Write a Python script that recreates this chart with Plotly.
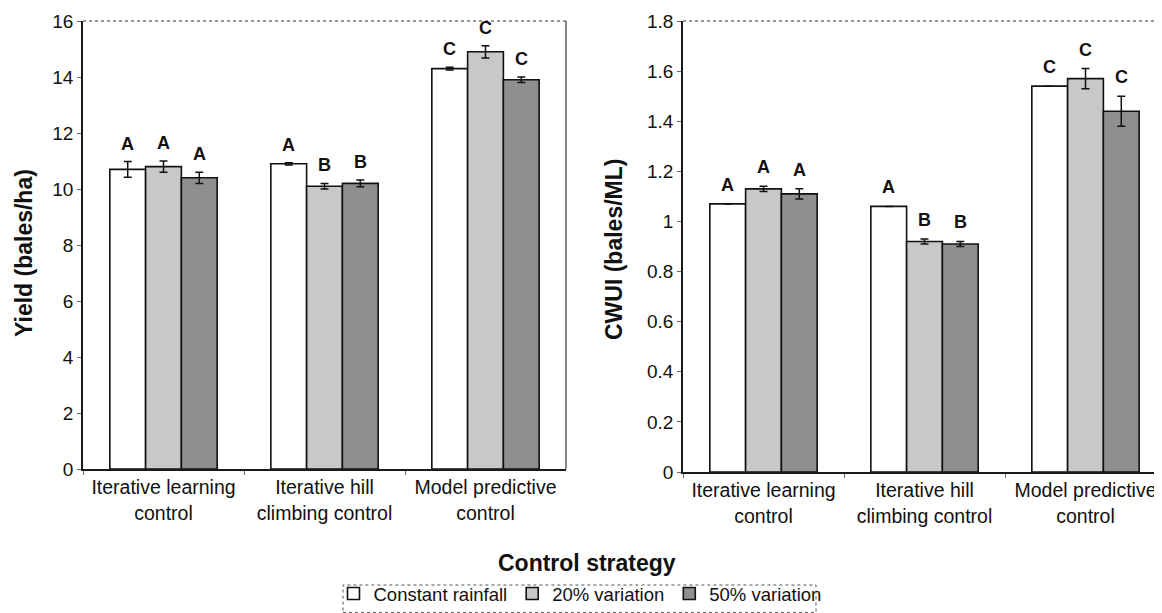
import plotly.graph_objects as go

categories = ["Iterative learning<br>control", "Iterative hill<br>climbing control", "Model predictive<br>control"]
series_names = ["Constant rainfall", "20% variation", "50% variation"]

yield_constant = [10.7, 10.9, 14.3]
yield_20 = [10.8, 10.1, 14.9]
yield_50 = [10.4, 10.2, 13.9]
yield_err_constant = [0.28, 0.04, 0.05]
yield_err_20 = [0.2, 0.1, 0.22]
yield_err_50 = [0.2, 0.12, 0.1]

cwui_constant = [1.07, 1.06, 1.54]
cwui_20 = [1.13, 0.92, 1.57]
cwui_50 = [1.11, 0.91, 1.44]
cwui_err_constant = [0.0, 0.0, 0.0]
cwui_err_20 = [0.01, 0.01, 0.04]
cwui_err_50 = [0.02, 0.01, 0.06]

letters_constant = ["A", "A", "C"]
letters_20 = ["A", "B", "C"]
letters_50 = ["A", "B", "C"]

fills = ["#ffffff", "#c8c8c8", "#8f8f8f"]
FONT = "Liberation Sans, Arial, sans-serif"
INK = "#111111"

# page is offset by the default 8px body margin
FW, FH = 1154, 605

def px(x):
    return (x - 8) / FW

def py(y):
    return 1 - (y - 8) / FH

fig = go.Figure()

yield_vals = [yield_constant, yield_20, yield_50]
yield_errs = [yield_err_constant, yield_err_20, yield_err_50]
cwui_vals = [cwui_constant, cwui_20, cwui_50]
cwui_errs = [cwui_err_constant, cwui_err_20, cwui_err_50]
letters = [letters_constant, letters_20, letters_50]

for i in range(3):
    fig.add_trace(go.Bar(
        x=categories, y=yield_vals[i], name=series_names[i],
        marker=dict(color=fills[i], line=dict(color=INK, width=1.6)),
        error_y=dict(type="data", array=yield_errs[i], visible=True,
                     color=INK, thickness=1.5, width=4),
        xaxis="x", yaxis="y", offsetgroup=str(i), legendgroup=str(i),
    ))
for i in range(3):
    fig.add_trace(go.Bar(
        x=categories, y=cwui_vals[i], name=series_names[i],
        marker=dict(color=fills[i], line=dict(color=INK, width=1.6)),
        error_y=dict(type="data", array=cwui_errs[i], visible=True,
                     color=INK, thickness=1.5, width=4),
        xaxis="x2", yaxis="y2", offsetgroup=str(i), legendgroup=str(i),
        showlegend=False,
    ))

cat_px = 161.0
bw = cat_px / 4.5
annotations = []
for i in range(3):
    for j, cat in enumerate(categories):
        annotations.append(dict(
            x=cat, y=yield_vals[i][j] + yield_errs[i][j], xref="x", yref="y",
            text="<b>%s</b>" % letters[i][j], showarrow=False,
            xshift=(i - 1) * bw, yshift=6, xanchor="center", yanchor="bottom",
            font=dict(family=FONT, size=18, color=INK)))
        annotations.append(dict(
            x=cat, y=cwui_vals[i][j] + cwui_errs[i][j], xref="x2", yref="y2",
            text="<b>%s</b>" % letters[i][j], showarrow=False,
            xshift=(i - 1) * bw, yshift=7, xanchor="center", yanchor="bottom",
            font=dict(family=FONT, size=18, color=INK)))

annotations += [
    dict(x=px(24), y=py(253), xref="paper", yref="paper", text="<b>Yield (bales/ha)</b>",
         textangle=-90, showarrow=False, xanchor="center", yanchor="middle",
         font=dict(family=FONT, size=23, color=INK)),
    dict(x=px(614), y=py(250), xref="paper", yref="paper", text="<b>CWUI (bales/ML)</b>",
         textangle=-90, showarrow=False, xanchor="center", yanchor="middle",
         font=dict(family=FONT, size=23, color=INK)),
    dict(x=px(587), y=py(563), xref="paper", yref="paper", text="<b>Control strategy</b>",
         showarrow=False, xanchor="center", yanchor="middle",
         font=dict(family=FONT, size=23, color=INK)),
]

axis_common = dict(showgrid=False, zeroline=False, showline=True, linecolor="#1a1a1a",
                   linewidth=1.6, ticks="outside", ticklen=4, tickcolor="#666666",
                   automargin=False,
                   tickfont=dict(family=FONT, size=19, color=INK))

xfont = dict(family=FONT, size=19.5, color=INK)

fig.update_layout(
    width=FW, height=FH,
    margin=dict(l=0, r=0, t=0, b=0, pad=0, autoexpand=False),
    paper_bgcolor="white", plot_bgcolor="white",
    barmode="group", bargap=1.5 / 4.5, bargroupgap=0,
    xaxis=dict(domain=[px(83), px(566)], anchor="y", tickson="boundaries",
               range=[-0.5, 2.5], **{**axis_common, "tickfont": xfont}),
    yaxis=dict(domain=[py(469), py(21)], anchor="x", range=[0, 16], dtick=2,
               **axis_common),
    xaxis2=dict(domain=[px(683), 1.0], anchor="y2", tickson="boundaries",
                range=[-0.5, -0.5 + (FW - (683 - 8)) / cat_px],
                **{**axis_common, "tickfont": xfont}),
    yaxis2=dict(domain=[py(472), py(21)], anchor="x2", range=[0, 1.8], dtick=0.2,
                **axis_common),
    annotations=annotations,
    legend=dict(orientation="h", x=px(580), xanchor="center", y=0.0, yanchor="bottom",
                borderwidth=0, bgcolor="rgba(0,0,0,0)",
                font=dict(family=FONT, size=18.5, color=INK),
                itemwidth=30, traceorder="normal", tracegroupgap=0),
    shapes=[
        dict(type="line", xref="x domain", yref="y domain", x0=0, x1=1, y0=1, y1=1,
             line=dict(color="#333333", width=1.2, dash="dot")),
        dict(type="line", xref="x domain", yref="y domain", x0=1, x1=1, y0=0, y1=1,
             line=dict(color="#777777", width=1.8)),
        dict(type="line", xref="x2 domain", yref="y2 domain", x0=0, x1=1, y0=1, y1=1,
             line=dict(color="#333333", width=1.2, dash="dot")),
        dict(type="rect", xref="paper", yref="paper", x0=px(343), x1=px(816),
             y0=0.001, y1=py(585), line=dict(color="#555555", width=1, dash="dot")),
    ],
)

fig.write_html("out.html")
